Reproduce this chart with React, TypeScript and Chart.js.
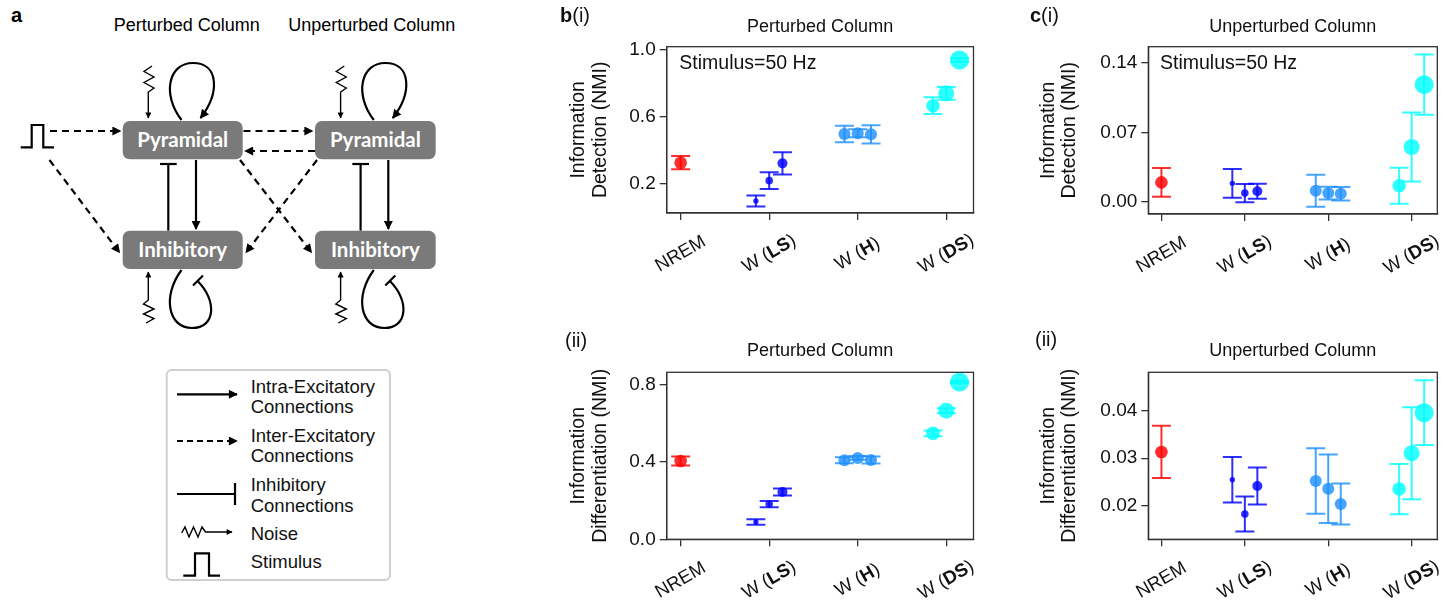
import React, { useEffect, useRef } from 'react';
import { Chart, registerables } from 'chart.js';

Chart.register(...registerables);

// ---------------- DATA ----------------
const categories = ['NREM', 'W (LS)', 'W (H)', 'W (DS)'];
const boldParts = ['', 'LS', 'H', 'DS'];
const pointOffsets = [[0], [-0.15, 0, 0.15], [-0.15, 0, 0.15], [-0.15, 0, 0.15]];

// b(i) Perturbed column, information detection
const detectionPerturbed = [[0.324], [0.094, 0.216, 0.32], [0.496, 0.5, 0.494], [0.666, 0.74, 0.94]];
const detectionPerturbedErr = [[0.04], [0.033, 0.05, 0.067], [0.05, 0.024, 0.055], [0.05, 0.038, 0.01]];
const detectionPerturbedTicks = [0.2, 0.6, 1.0];

// c(i) Unperturbed column, information detection
const detectionUnperturbed = [[0.0198], [0.0188, 0.009, 0.0108], [0.0114, 0.009, 0.0083], [0.0164, 0.0553, 0.1179]];
const detectionUnperturbedErr = [[0.0145], [0.0144, 0.0092, 0.0075], [0.016, 0.0064, 0.0067], [0.0181, 0.0347, 0.0303]];
const detectionUnperturbedTicks = [0.0, 0.07, 0.14];

// b(ii) Perturbed column, information differentiation
const differentiationPerturbed = [[0.404], [0.089, 0.182, 0.244], [0.408, 0.42, 0.409], [0.547, 0.664, 0.812]];
const differentiationPerturbedErr = [[0.023], [0.014, 0.016, 0.018], [0.015, 0.01, 0.018], [0.015, 0.012, 0.005]];
const differentiationPerturbedTicks = [0.0, 0.4, 0.8];

// c(ii) Unperturbed column, information differentiation
const differentiationUnperturbed = [[0.03133], [0.02547, 0.01825, 0.02415], [0.0252, 0.02358, 0.02036], [0.02351, 0.03105, 0.0396]];
const differentiationUnperturbedErr = [[0.0055], [0.0048, 0.0037, 0.0039], [0.0069, 0.0072, 0.0043], [0.0053, 0.0097, 0.0068]];
const differentiationUnperturbedTicks = [0.02, 0.03, 0.04];

// ---------------- STYLE ----------------
const FONT = "'Liberation Sans', Arial, Helvetica, sans-serif";
const groupColors = ['rgba(255,0,0,0.82)', 'rgba(0,0,255,0.82)', 'rgba(30,144,255,0.82)', 'rgba(0,255,255,0.82)'];
const markerRadii = [[6.3], [2.7, 3.8, 5], [6, 6, 6], [6.8, 8, 9.5]];
const AXIS_COLOR = '#333';

type Panel = {
  values: number[][];
  errors: number[][];
  ticks: number[];
  digits: number;
  yMin: number;
  yMax: number;
  canvas: { x: number; y: number; w: number; h: number };
  plot: { x0: number; y0: number; x1: number; y1: number };
  title: string;
  titleY: number;
  yTitle: string[];
  yTitleX: number[];
  letter: string;
  sub: string;
  letterX: number;
  letterY: number;
  annotation?: string;
  annX?: number;
  annY?: number;
};

const panels: Panel[] = [
  {
    values: detectionPerturbed, errors: detectionPerturbedErr, ticks: detectionPerturbedTicks, digits: 1,
    yMin: 0.022, yMax: 1.02,
    canvas: { x: 540, y: 0, w: 445, h: 300 }, plot: { x0: 666.7, y0: 46.7, x1: 976, y1: 213 },
    title: 'Perturbed Column', titleY: 31.7, yTitle: ['Information', 'Detection (NMI)'], yTitleX: [578.5, 600.5],
    letter: 'b', sub: '(i)', letterX: 560, letterY: 21.7,
    annotation: 'Stimulus=50 Hz', annX: 679.3, annY: 69.3,
  },
  {
    values: detectionUnperturbed, errors: detectionUnperturbedErr, ticks: detectionUnperturbedTicks, digits: 2,
    yMin: -0.012, yMax: 0.156,
    canvas: { x: 990, y: 0, w: 465, h: 300 }, plot: { x0: 1148.3, y0: 46.7, x1: 1437.3, y1: 214 },
    title: 'Unperturbed Column', titleY: 31.7, yTitle: ['Information', 'Detection (NMI)'], yTitleX: [1048.3, 1069.8],
    letter: 'c', sub: '(i)', letterX: 1030, letterY: 21.7,
    annotation: 'Stimulus=50 Hz', annX: 1160, annY: 69.3,
  },
  {
    values: differentiationPerturbed, errors: differentiationPerturbedErr, ticks: differentiationPerturbedTicks, digits: 1,
    yMin: 0, yMax: 0.862,
    canvas: { x: 540, y: 320, w: 445, h: 285 }, plot: { x0: 666.7, y0: 372.3, x1: 976, y1: 539.3 },
    title: 'Perturbed Column', titleY: 356, yTitle: ['Information', 'Differentiation (NMI)'], yTitleX: [578.3, 600.5],
    letter: '', sub: '(ii)', letterX: 565, letterY: 347,
  },
  {
    values: differentiationUnperturbed, errors: differentiationUnperturbedErr, ticks: differentiationUnperturbedTicks, digits: 2,
    yMin: 0.01293, yMax: 0.0481,
    canvas: { x: 990, y: 320, w: 465, h: 285 }, plot: { x0: 1148.3, y0: 372.3, x1: 1437.3, y1: 539.3 },
    title: 'Unperturbed Column', titleY: 356, yTitle: ['Information', 'Differentiation (NMI)'], yTitleX: [1048.3, 1069.8],
    letter: '', sub: '(ii)', letterX: 1035, letterY: 346,
  },
];

function splitLabel(label: string, bold: string): [string, boolean][] {
  if (!bold) return [[label, false]];
  const i = label.indexOf(bold);
  return [[label.slice(0, i), false], [bold, true], [label.slice(i + bold.length), false]];
}

function makeDecorPlugin(p: Panel) {
  return {
    id: 'decor',
    afterDraw(chart: any) {
      const ctx = chart.ctx as CanvasRenderingContext2D;
      const ca = chart.chartArea;
      const ox = p.canvas.x;
      const oy = p.canvas.y;
      ctx.save();
      // frame
      ctx.strokeStyle = AXIS_COLOR;
      ctx.lineWidth = 1.3;
      ctx.strokeRect(ca.left, ca.top, ca.right - ca.left, ca.bottom - ca.top);
      ctx.fillStyle = '#111';
      // title
      ctx.font = `18px ${FONT}`;
      ctx.textAlign = 'center';
      ctx.textBaseline = 'alphabetic';
      ctx.fillText(p.title, (ca.left + ca.right) / 2, p.titleY - oy);
      // y title
      ctx.font = `19.5px ${FONT}`;
      ctx.textBaseline = 'middle';
      p.yTitle.forEach((t, i) => {
        ctx.save();
        ctx.translate(p.yTitleX[i] - ox, (ca.top + ca.bottom) / 2);
        ctx.rotate(-Math.PI / 2);
        ctx.fillText(t, 0, 0);
        ctx.restore();
      });
      // x category labels (rotated, with bold parts)
      const xs = chart.scales.x;
      categories.forEach((cat, i) => {
        const parts = splitLabel(cat, boldParts[i]);
        const fonts = parts.map(([, b]) => `${b ? 'bold ' : ''}18.5px ${FONT}`);
        let total = 0;
        const widths = parts.map(([s], k) => {
          ctx.font = fonts[k];
          const w = ctx.measureText(s).width;
          total += w;
          return w;
        });
        ctx.save();
        ctx.translate(xs.getPixelForValue(i), ca.bottom + 41);
        ctx.rotate(-Math.PI / 6);
        ctx.textAlign = 'left';
        ctx.textBaseline = 'middle';
        let cx = -total / 2;
        parts.forEach(([s], k) => {
          ctx.font = fonts[k];
          ctx.fillText(s, cx, 0);
          cx += widths[k];
        });
        ctx.restore();
      });
      // panel letter
      ctx.textAlign = 'left';
      ctx.textBaseline = 'alphabetic';
      let lx = p.letterX - ox;
      if (p.letter) {
        ctx.font = `bold 20px ${FONT}`;
        ctx.fillText(p.letter, lx, p.letterY - oy);
        lx += ctx.measureText(p.letter).width;
      }
      ctx.font = `20px ${FONT}`;
      ctx.fillText(p.sub, lx, p.letterY - oy);
      // annotation
      if (p.annotation) {
        ctx.font = `19.5px ${FONT}`;
        ctx.fillText(p.annotation, (p.annX as number) - ox, (p.annY as number) - oy);
      }
      ctx.restore();
    },
  };
}

function buildDatasets(p: Panel) {
  const ds: any[] = [];
  p.values.forEach((grp, g) => {
    const color = groupColors[g];
    const errPts: any[] = [];
    const pts: any[] = [];
    grp.forEach((v, i) => {
      const x = g + pointOffsets[g][i];
      const e = p.errors[g][i];
      errPts.push({ x, y: v - e }, { x, y: v + e }, { x, y: null });
      pts.push({ x, y: v });
    });
    ds.push({
      type: 'scatter',
      data: errPts,
      showLine: true,
      spanGaps: false,
      borderColor: color,
      borderWidth: 2,
      pointStyle: 'line',
      pointRadius: 9.5,
      pointBorderColor: color,
      pointBackgroundColor: color,
      pointBorderWidth: 2,
      order: 2,
    });
    ds.push({
      type: 'scatter',
      data: pts,
      pointStyle: 'circle',
      pointRadius: markerRadii[g],
      pointBackgroundColor: color,
      pointBorderColor: color,
      pointBorderWidth: 0,
      order: 1,
    });
  });
  return ds;
}

function ChartPanel({ p }: { p: Panel }) {
  const ref = useRef<HTMLCanvasElement | null>(null);
  useEffect(() => {
    if (!ref.current) return;
    const yWidth = p.plot.x0 - p.canvas.x;
    const xHeight = p.canvas.y + p.canvas.h - p.plot.y1;
    const gridOpts = {
      display: true,
      drawOnChartArea: false,
      drawTicks: true,
      tickLength: 7,
      color: AXIS_COLOR,
      lineWidth: 1.3,
    };
    const chart = new Chart(ref.current, {
      type: 'scatter',
      data: { datasets: buildDatasets(p) },
      options: {
        animation: false,
        responsive: false,
        maintainAspectRatio: false,
        devicePixelRatio: 1,
        events: [],
        layout: {
          padding: {
            top: p.plot.y0 - p.canvas.y,
            right: p.canvas.x + p.canvas.w - p.plot.x1,
            left: 0,
            bottom: 0,
          },
        },
        plugins: { legend: { display: false }, tooltip: { enabled: false }, title: { display: false } },
        scales: {
          x: {
            type: 'linear',
            min: -0.1575,
            max: 3.3075,
            afterBuildTicks: (s: any) => {
              s.ticks = categories.map((_, i) => ({ value: i }));
            },
            afterFit: (s: any) => {
              s.height = xHeight;
            },
            ticks: { display: false },
            grid: gridOpts,
            border: { display: true, color: AXIS_COLOR, width: 1.3 },
          },
          y: {
            type: 'linear',
            min: p.yMin,
            max: p.yMax,
            afterBuildTicks: (s: any) => {
              s.ticks = p.ticks.map((v) => ({ value: v }));
            },
            afterFit: (s: any) => {
              s.width = yWidth;
            },
            ticks: {
              autoSkip: false,
              padding: 4,
              color: '#111',
              font: { family: FONT, size: 19 },
              callback: (v: any) => Number(v).toFixed(p.digits),
            },
            grid: gridOpts,
            border: { display: true, color: AXIS_COLOR, width: 1.3 },
          },
        },
      } as any,
      plugins: [makeDecorPlugin(p)],
    });
    return () => chart.destroy();
  }, [p]);
  return (
    <canvas
      ref={ref}
      width={p.canvas.w}
      height={p.canvas.h}
      style={{ position: 'absolute', left: p.canvas.x, top: p.canvas.y, width: p.canvas.w, height: p.canvas.h }}
    />
  );
}

// ---------------- DIAGRAM (panel a) ----------------
const STROKE = 2.2;

function Box({ x, y, w, h, label }: { x: number; y: number; w: number; h: number; label: string }) {
  return (
    <g>
      <rect x={x} y={y} width={w} height={h} rx={7} ry={7} fill="#7a7a7a" />
      <text
        x={x + w / 2}
        y={y + h / 2 + 7}
        textAnchor="middle"
        fill="#fff"
        style={{ font: "bold 20.5px Lato, 'DejaVu Sans', sans-serif" }}
      >
        {label}
      </text>
    </g>
  );
}

function ColumnParts({ dx }: { dx: number }) {
  return (
    <g transform={`translate(${dx},0)`}>
      {/* inhibitory connection I -> P */}
      <line x1={168.3} y1={230.7} x2={168.3} y2={164} stroke="#000" strokeWidth={STROKE} />
      <line x1={160} y1={164} x2={176.7} y2={164} stroke="#000" strokeWidth={STROKE} />
      {/* excitatory P -> I */}
      <line x1={196} y1={160} x2={196} y2={229} stroke="#000" strokeWidth={STROKE} markerEnd="url(#ah)" />
      {/* pyramidal self loop */}
      <path d="M 181.5 120 C 162 95, 168 63, 193 63 C 219 63, 220 93, 200.5 118" fill="none" stroke="#000" strokeWidth={STROKE} markerEnd="url(#ah)" />
      {/* inhibitory self loop */}
      <path d="M 181.5 270 C 162 296, 168 328, 192 328 C 216 328, 217 300, 197.5 281" fill="none" stroke="#000" strokeWidth={STROKE} />
      <line x1={193} y1={285.5} x2={203} y2={275.5} stroke="#000" strokeWidth={STROKE} />
      {/* noise to pyramidal */}
      <polyline points="152,66 144,71.5 154,77 144,82.5 154,88 148.3,92 148.3,118" fill="none" stroke="#000" strokeWidth={1.4} markerEnd="url(#ahs)" />
      {/* noise to inhibitory */}
      <polyline points="146,323 154,318.5 143.5,314 154,309 143.5,304 148.3,300 148.3,272" fill="none" stroke="#000" strokeWidth={1.4} markerEnd="url(#ahs)" />
    </g>
  );
}

function Diagram() {
  const dash = '7 5';
  return (
    <svg width={540} height={605} style={{ position: 'absolute', left: 0, top: 0 }}>
      <defs>
        <marker id="ah" viewBox="0 0 10 10" refX="9" refY="5" markerWidth="11" markerHeight="9" markerUnits="userSpaceOnUse" orient="auto">
          <path d="M0,0 L10,5 L0,10 z" fill="#000" />
        </marker>
        <marker id="ahs" viewBox="0 0 10 10" refX="9" refY="5" markerWidth="8" markerHeight="6" markerUnits="userSpaceOnUse" orient="auto">
          <path d="M0,0 L10,5 L0,10 z" fill="#000" />
        </marker>
      </defs>
      <text x={11} y={21.7} style={{ font: `bold 20px ${FONT}` }}>a</text>
      <text x={186.7} y={30.7} textAnchor="middle" style={{ font: `18px ${FONT}` }}>Perturbed Column</text>
      <text x={371.7} y={30.7} textAnchor="middle" style={{ font: `18px ${FONT}` }}>Unperturbed Column</text>

      <ColumnParts dx={0} />
      <ColumnParts dx={192.3} />

      {/* stimulus */}
      <polyline points="20.7,147.3 31.7,147.3 31.7,125 43.3,125 43.3,147.3 54,147.3" fill="none" stroke="#000" strokeWidth={STROKE} />

      {/* dashed inter-excitatory connections */}
      <line x1={50} y1={131} x2={120.5} y2={131} stroke="#000" strokeWidth={STROKE} strokeDasharray={dash} markerEnd="url(#ah)" />
      <line x1={49.5} y1={160} x2={119.5} y2={252.5} stroke="#000" strokeWidth={STROKE} strokeDasharray={dash} markerEnd="url(#ah)" />
      <line x1={243.5} y1={131} x2={312.5} y2={131} stroke="#000" strokeWidth={STROKE} strokeDasharray={dash} markerEnd="url(#ah)" />
      <line x1={315} y1={151} x2={245} y2={151} stroke="#000" strokeWidth={STROKE} strokeDasharray={dash} markerEnd="url(#ah)" />
      <line x1={240} y1={160} x2={311.5} y2={252.5} stroke="#000" strokeWidth={STROKE} strokeDasharray={dash} markerEnd="url(#ah)" />
      <line x1={317} y1={160} x2={246} y2={252.5} stroke="#000" strokeWidth={STROKE} strokeDasharray={dash} markerEnd="url(#ah)" />

      <Box x={122.7} y={121} w={120} h={38.3} label="Pyramidal" />
      <Box x={315} y={121} w={120.7} h={38.3} label="Pyramidal" />
      <Box x={122.7} y={230.7} w={120} h={38.3} label="Inhibitory" />
      <Box x={315} y={230.7} w={120.7} h={38.3} label="Inhibitory" />

      {/* legend */}
      <rect x={166.7} y={370} width={223.3} height={210} rx={5} ry={5} fill="#fff" stroke="#cfcfcf" strokeWidth={2} />
      <line x1={177} y1={394.3} x2={237} y2={394.3} stroke="#000" strokeWidth={STROKE} markerEnd="url(#ah)" />
      <line x1={177} y1={441} x2={237} y2={441} stroke="#000" strokeWidth={STROKE} strokeDasharray="6 4" markerEnd="url(#ah)" />
      <line x1={177} y1={494} x2={235} y2={494} stroke="#000" strokeWidth={STROKE} />
      <line x1={235} y1={483} x2={235} y2={505} stroke="#000" strokeWidth={STROKE} />
      <polyline points="181.7,533 185,527 189,537 193.5,527 198,537 202,527 205.5,532 232,532" fill="none" stroke="#000" strokeWidth={1.4} markerEnd="url(#ahs)" />
      <polyline points="183.3,575.7 195,575.7 195,553.3 209,553.3 209,575.7 220,575.7" fill="none" stroke="#000" strokeWidth={STROKE} />
      <g style={{ font: `18.5px ${FONT}` }} fill="#111">
        <text x={250.7} y={393.3}>Intra-Excitatory</text>
        <text x={250.7} y={413.3}>Connections</text>
        <text x={250.7} y={441.7}>Inter-Excitatory</text>
        <text x={250.7} y={461.7}>Connections</text>
        <text x={250.7} y={490.7}>Inhibitory</text>
        <text x={250.7} y={511.7}>Connections</text>
        <text x={250.7} y={540}>Noise</text>
        <text x={250.7} y={568.3}>Stimulus</text>
      </g>
    </svg>
  );
}

export default function App() {
  return (
    <div style={{ position: 'fixed', left: 0, top: 0, width: 1455, height: 605, background: '#fff', overflow: 'hidden' }}>
      <Diagram />
      {panels.map((p, i) => (
        <ChartPanel key={i} p={p} />
      ))}
    </div>
  );
}
